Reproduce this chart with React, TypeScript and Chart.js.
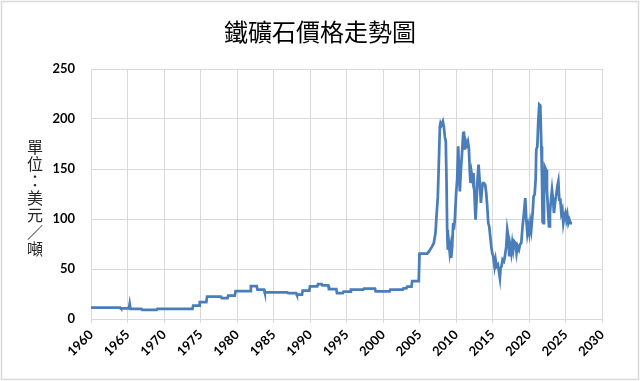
import React, { useEffect, useRef } from "react";
import { Chart, registerables } from "chart.js";

Chart.register(...registerables);

const chartTitle = "鐵礦石價格走勢圖";
const yAxisTitle = ["單", "位", "：", "美", "元", "／", "噸"];

const years: number[] = [
  1960.0, 1964.0, 1964.1, 1965.2, 1965.3, 1965.4, 1966.9, 1967.0, 1969.0, 1969.1,
  1973.9, 1974.0, 1974.8, 1974.9, 1975.8, 1975.9, 1977.8, 1977.9, 1978.7, 1978.8,
  1979.7, 1979.8, 1981.8, 1981.9, 1982.7, 1982.8, 1983.7, 1983.8, 1986.9, 1987.0,
  1988.1, 1988.2, 1988.9, 1989.0, 1989.9, 1990.0, 1991.0, 1991.1, 1991.6, 1991.7,
  1992.5, 1992.6, 1993.6, 1993.7, 1994.5, 1994.6, 1995.5, 1995.6, 1997.3, 1997.4,
  1998.9, 1999.0, 2000.9, 2001.0, 2002.7, 2002.8, 2003.2, 2003.3, 2003.9, 2004.0,
  2004.9, 2005.0, 2006.05, 2006.3, 2006.73, 2006.96, 2007.19, 2007.33, 2007.51, 2007.65,
  2007.79, 2007.88, 2008.01, 2008.2, 2008.33, 2008.47, 2008.6, 2008.7, 2008.79, 2008.88,
  2009.02, 2009.15, 2009.25, 2009.34, 2009.48, 2009.61, 2009.7, 2009.84, 2010.02, 2010.16,
  2010.3, 2010.43, 2010.53, 2010.67, 2010.8, 2010.99, 2011.08, 2011.21, 2011.35, 2011.49,
  2011.63, 2011.76, 2011.9, 2011.99, 2012.13, 2012.27, 2012.4, 2012.54, 2012.68, 2012.82,
  2012.95, 2013.09, 2013.23, 2013.41, 2013.55, 2013.68, 2013.82, 2014.0, 2014.14, 2014.28,
  2014.42, 2014.55, 2014.69, 2014.83, 2014.96, 2015.1, 2015.28, 2015.42, 2015.56, 2015.74,
  2015.88, 2016.01, 2016.11, 2016.24, 2016.38, 2016.56, 2016.7, 2016.88, 2017.02, 2017.16,
  2017.3, 2017.43, 2017.57, 2017.71, 2017.84, 2017.98, 2018.16, 2018.3, 2018.44, 2018.62,
  2018.76, 2018.94, 2019.12, 2019.31, 2019.49, 2019.63, 2019.77, 2019.9, 2020.04, 2020.18,
  2020.31, 2020.5, 2020.63, 2020.77, 2020.91, 2021.0, 2021.14, 2021.28, 2021.41, 2021.55,
  2021.69, 2021.78, 2021.87, 2021.96, 2022.05, 2022.17, 2022.33, 2022.46, 2022.6, 2022.74,
  2022.87, 2023.01, 2023.15, 2023.29, 2023.42, 2023.56, 2023.7, 2023.88, 2024.02, 2024.15,
  2024.29, 2024.43, 2024.57, 2024.7, 2024.84, 2024.98, 2025.12, 2025.25, 2025.39, 2025.53,
  2025.66, 2025.71,
];

const prices: number[] = [
  11.5, 11.5, 10.6, 10.6, 15.0, 10.2, 10.2, 9.2, 9.2, 10.2,
  10.2, 13.4, 13.4, 17.0, 17.0, 22.3, 22.3, 21.0, 21.0, 23.4,
  23.4, 28.0, 28.0, 32.8, 32.8, 29.5, 29.5, 26.6, 26.6, 26.0,
  26.0, 24.3, 24.3, 28.4, 28.4, 32.6, 32.6, 35.0, 35.0, 33.6,
  33.6, 30.0, 30.0, 26.0, 26.0, 27.3, 27.3, 29.3, 29.3, 30.3,
  30.3, 27.6, 27.6, 29.3, 29.3, 30.6, 30.6, 32.4, 32.4, 38.0,
  38.0, 65.3, 65.3, 67.6, 72.6, 76.0, 86.0, 102.6, 122.6, 156.0,
  192.6, 196.0, 194.0, 197.6, 192.6, 182.6, 177.6, 139.3, 89.3, 69.3,
  76.0, 66.0, 71.0, 61.0, 72.6, 96.0, 89.3, 99.3, 126.0, 139.3,
  172.6, 146.0, 127.6, 149.3, 162.6, 186.0, 187.6, 169.3, 177.6, 174.3,
  177.6, 171.0, 146.0, 136.0, 146.0, 139.3, 146.0, 122.6, 99.3, 119.3,
  139.3, 154.3, 139.3, 116.0, 129.3, 136.0, 136.0, 134.3, 126.0, 112.6,
  96.0, 92.6, 82.6, 72.6, 66.0, 62.6, 52.6, 59.3, 52.6, 54.3,
  47.6, 41.0, 51.0, 52.6, 59.3, 57.6, 62.6, 72.6, 89.3, 82.6,
  62.6, 72.6, 66.0, 76.0, 69.3, 77.6, 76.0, 66.0, 72.6, 69.3,
  74.3, 76.0, 92.6, 106.0, 121.0, 99.3, 86.0, 92.6, 86.0, 96.0,
  89.3, 106.0, 122.6, 124.3, 139.3, 169.3, 172.6, 199.3, 214.3, 213.3,
  172.6, 140.0, 97.0, 96.0, 119.3, 152.0, 149.3, 129.3, 109.3, 92.6,
  106.0, 119.3, 129.3, 119.3, 106.0, 116.0, 122.6, 132.6, 137.6, 119.3,
  119.3, 106.0, 109.3, 96.0, 102.6, 106.0, 99.3, 104.3, 96.0, 99.3,
  96.0, 97.6,
];

const xMin = 1960;
const xMax = 2030;
const xStep = 5;
const yMin = 0;
const yMax = 250;
const yStep = 50;

const TICK_FONT = { family: "Lato, 'Liberation Sans', sans-serif", size: 13, weight: "bold" as const };

const decorPlugin = {
  id: "decor",
  beforeDraw(chart: any) {
    const { ctx, width, height } = chart;
    ctx.save();
    ctx.fillStyle = "#ffffff";
    ctx.fillRect(0, 0, width, height);
    ctx.strokeStyle = "#d9d9d9";
    ctx.lineWidth = 1.5;
    ctx.strokeRect(1.5, 1.5, width - 3, height - 3);
    ctx.restore();
  },
  afterDraw(chart: any) {
    const { ctx } = chart;
    ctx.save();
    ctx.fillStyle = "#000000";
    ctx.textAlign = "center";
    ctx.textBaseline = "middle";
    ctx.font = "24px 'Noto Sans CJK TC', sans-serif";
    ctx.fillText(chartTitle, 320, 32);
    ctx.fillStyle = "#262626";
    ctx.font = "16px 'Noto Sans CJK TC', sans-serif";
    const startY = 147;
    const pitch = 17;
    yAxisTitle.forEach((ch, i) => {
      ctx.fillText(ch, 35, startY + i * pitch);
    });
    ctx.restore();
  },
};

export default function App() {
  const canvasRef = useRef<HTMLCanvasElement | null>(null);

  useEffect(() => {
    const canvas = canvasRef.current;
    if (!canvas) return;
    const data = years.map((x, i) => ({ x, y: prices[i] }));
    const chart = new Chart(canvas, {
      type: "line",
      data: {
        datasets: [
          {
            data,
            borderColor: "#4a7ebb",
            borderWidth: 2.75,
            pointRadius: 0,
            tension: 0,
            fill: false,
          },
        ],
      },
      options: {
        responsive: false,
        animation: false,
        devicePixelRatio: 1,
        layout: { padding: { left: 0, top: 69, right: 38, bottom: 0 } },
        plugins: {
          legend: { display: false },
          title: { display: false },
          tooltip: { enabled: false },
        },
        scales: {
          x: {
            type: "linear",
            min: xMin,
            max: xMax,
            afterFit(scale: any) {
              scale.height = 62;
            },
            ticks: {
              stepSize: xStep,
              autoSkip: false,
              minRotation: 45,
              maxRotation: 45,
              padding: 4,
              color: "#000000",
              font: TICK_FONT,
              callback: (v: any) => String(v),
            },
            grid: { color: "#d9d9d9", lineWidth: 1, drawTicks: true, tickLength: 4 },
            border: { display: false },
          },
          y: {
            min: yMin,
            max: yMax,
            afterFit(scale: any) {
              scale.width = 91;
            },
            ticks: {
              stepSize: yStep,
              padding: 16,
              color: "#000000",
              font: TICK_FONT,
            },
            grid: { color: "#d9d9d9", lineWidth: 1, drawTicks: false },
            border: { display: false },
          },
        },
      },
      plugins: [decorPlugin],
    });
    return () => chart.destroy();
  }, []);

  return (
    <div style={{ position: "fixed", left: 0, top: 0, width: 640, height: 381, background: "#fff" }}>
      <canvas ref={canvasRef} width={640} height={381} style={{ display: "block" }} />
    </div>
  );
}
